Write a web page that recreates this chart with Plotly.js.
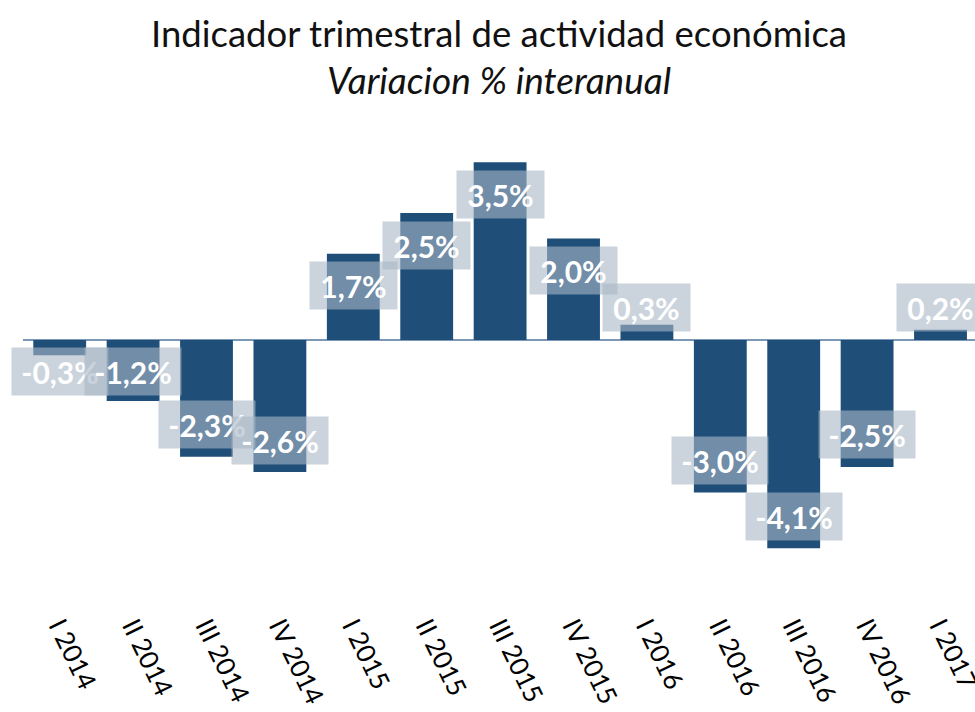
<!DOCTYPE html>
<html>
<head>
<meta charset="utf-8">
<script src="https://cdn.plot.ly/plotly-3.0.1.min.js"></script>
<style>
  html, body { margin: 0; padding: 0; background: #fff; }
  #chart { width: 975px; height: 712px; }
</style>
</head>
<body>
<div id="chart"></div>
<script>
// Data
const categories = ["I 2014", "II 2014", "III 2014", "IV 2014", "I 2015", "II 2015", "III 2015", "IV 2015", "I 2016", "II 2016", "III 2016", "IV 2016", "I 2017"];
const values = [-0.3, -1.2, -2.3, -2.6, 1.7, 2.5, 3.5, 2.0, 0.3, -3.0, -4.1, -2.5, 0.2];
const labels = values.map(v => v.toFixed(1).replace(".", ",") + "%");
const titleText = "Indicador trimestral de actividad económica";
const subtitleText = "Variacion % interanual";

// Layout geometry
const W = 975, H = 712;
const margin = {l: 23, r: 0, t: 130, b: 107};
const yRange = [-5.217, 4.134];
const plotH = H - margin.t - margin.b;
const pxPerUnit = plotH / (yRange[1] - yRange[0]);
const inset = 32;
const FONT = "Lato, 'Open Sans', sans-serif";

const annotations = values.map((v, i) => {
  const s = v >= 0 ? 1 : -1;
  const endPx = Math.abs(v) * pxPerUnit;
  const targetPx = s * Math.max(endPx - inset, inset);
  return {
    x: categories[i], y: v, xref: "x", yref: "y",
    yshift: targetPx - v * pxPerUnit,
    text: "<b>" + labels[i] + "</b>",
    showarrow: false,
    font: {family: FONT, size: 30, color: "#ffffff"},
    bgcolor: "rgba(169,183,198,0.6)",
    borderpad: 0,
    height: 47,
    width: v < 0 ? 96 : 87,
    align: "center",
    valign: "middle",
    xanchor: "center", yanchor: "middle"
  };
});

annotations.push({
  xref: "paper", yref: "paper", x: 0.5, y: 1,
  yshift: 51, xanchor: "center", yanchor: "middle",
  text: "<i>" + subtitleText + "</i>",
  showarrow: false,
  font: {family: FONT, size: 37, color: "#111111"}
});

const trace = {
  type: "bar",
  x: categories,
  y: values,
  marker: {color: "#1f4e78", line: {width: 0}},
  hoverinfo: "skip"
};

const layout = {
  width: W, height: H,
  margin: margin,
  paper_bgcolor: "#ffffff",
  plot_bgcolor: "#ffffff",
  showlegend: false,
  bargap: 0.28,
  title: {
    text: titleText,
    font: {family: FONT, size: 36.5, color: "#111111"},
    x: 0.5, xref: "paper", xanchor: "center",
    y: 1 - 34 / 712, yref: "container", yanchor: "middle"
  },
  xaxis: {
    type: "category",
    range: [-0.5, 12.47],
    tickangle: 64,
    ticks: "",
    showline: false,
    showgrid: false,
    zeroline: false,
    automargin: false,
    tickfont: {family: FONT, size: 26, color: "#000000"}
  },
  yaxis: {
    range: yRange,
    showticklabels: false,
    showgrid: false,
    showline: false,
    ticks: "",
    zeroline: true,
    zerolinecolor: "#7d98b6",
    zerolinewidth: 2,
    automargin: false
  },
  annotations: annotations
};

Plotly.newPlot("chart", [trace], layout, {displayModeBar: false, staticPlot: true});
</script>
</body>
</html>
